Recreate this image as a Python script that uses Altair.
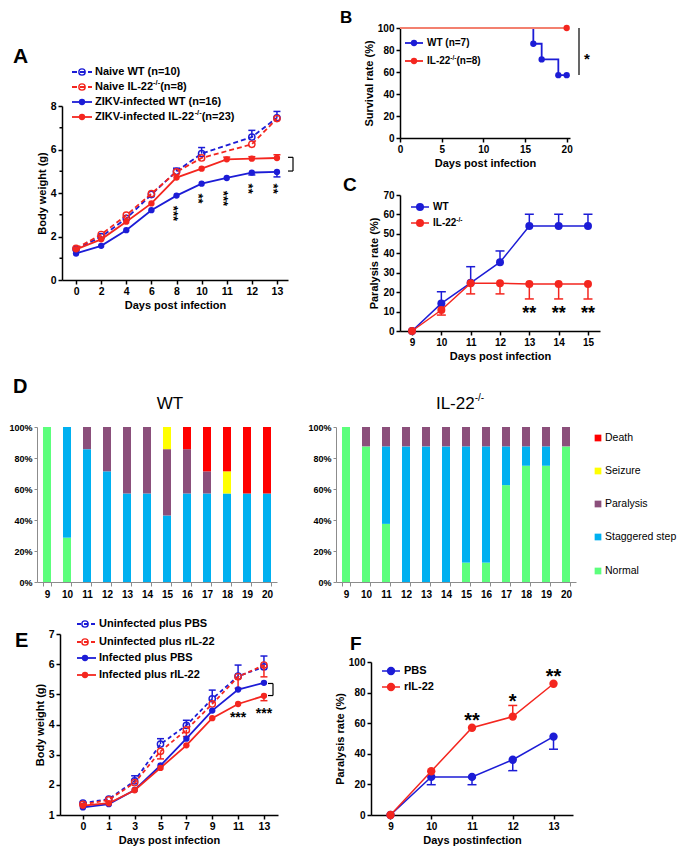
import altair as alt
import pandas as pd

FONT = "Liberation Sans"
BLUE = "#1C1CD6"
RED = "#F4261F"
RED_LIGHT = "#F3806F"
D_GRAY = "#8C8C8C"

# ---------------- Panel A: body weight ----------------
A_days = [0, 2, 4, 6, 8, 10, 11, 12, 13]
A_naive_wt = [1.42, 1.99, 2.83, 3.93, 5.00, 5.81, None, 6.57, 7.46]
A_naive_il22 = [1.45, 2.09, 2.98, 3.97, 4.97, 5.61, None, 6.24, 7.42]
A_zikv_wt = [1.22, 1.57, 2.29, 3.21, 3.88, 4.43, 4.69, 4.94, 4.97]
A_zikv_il22 = [1.41, 1.87, 2.68, 3.52, 4.71, 5.12, 5.55, 5.58, 5.61]
A_err_naive_wt = [None, None, None, None, 5.14, 6.09, None, 6.88, 7.75]
A_err_naive_il22 = [None, None, None, None, None, None, None, None, None]
A_err_zikv_wt = [None, None, None, None, None, None, None, 4.83, 4.74]
A_err_zikv_il22 = [None, None, None, None, None, None, 5.65, 5.67, 5.76]
A_star_days = [8, 10, 11, 12, 13]
A_star_text = ["***", "**", "***", "**", "**"]
A_star_y = [3.06, 3.75, 3.75, 4.2, 4.2]
A_bracket = [5.01, 5.64]
A_yticks = [0, 2, 4, 6, 8]
A_minor = [1, 3, 5, 7]

# ---------------- Panel B: survival ----------------
B_wt_days = [0, 16, 17, 19, 20]
B_wt_surv = [100, 85.7, 71.4, 57.1, 57.1]
B_wt_mark_days = [16, 17, 19, 20]
B_wt_mark_surv = [85.7, 71.4, 57.1, 57.1]
B_il_days = [0, 20]
B_il_surv = [100, 100]
B_il_mark_days = [20]
B_il_mark_surv = [100]
B_bracket = [57.3, 100]
B_star_y = 75.5

# ---------------- Panel C: paralysis ----------------
C_days = [9, 10, 11, 12, 13, 14, 15]
C_wt = [0, 14.2, 24.8, 35.4, 54.0, 54.0, 54.0]
C_wt_err = [None, 20.2, 33.1, 41.2, 60.1, 60.1, 60.1]
C_il = [0, 10.8, 24.6, 24.6, 24.2, 24.2, 24.2]
C_il_err = [None, 8.2, 19.1, 19.1, 16.5, 16.5, 16.5]
C_star_days = [13, 14, 15]
C_star_text = ["**", "**", "**"]
C_star_y = [11.2, 11.2, 11.2]

# ---------------- Panel D: clinical status ----------------
D_days = [9, 10, 11, 12, 13, 14, 15, 16, 17, 18, 19, 20]
D_status = ["Normal", "Staggered step", "Paralysis", "Seizure", "Death"]
D_colors = ["#5CFF7C", "#00B0F0", "#8B4F7B", "#FFFF00", "#FF0000"]
D_wt_normal = [100, 28.6, 0, 0, 0, 0, 0, 0, 0, 0, 0, 0]
D_wt_stag = [0, 71.4, 85.7, 71.4, 57.1, 57.1, 42.9, 57.1, 57.1, 57.1, 57.1, 57.1]
D_wt_para = [0, 0, 14.3, 28.6, 42.9, 42.9, 42.8, 28.6, 14.3, 0, 0, 0]
D_wt_seiz = [0, 0, 0, 0, 0, 0, 14.3, 0, 0, 14.3, 0, 0]
D_wt_death = [0, 0, 0, 0, 0, 0, 0, 14.3, 28.6, 28.6, 42.9, 42.9]
D_il_normal = [100, 87.5, 37.5, 0, 0, 0, 12.5, 12.5, 62.5, 75, 75, 87.5]
D_il_stag = [0, 0, 50, 87.5, 87.5, 87.5, 75, 75, 25, 12.5, 12.5, 0]
D_il_para = [0, 12.5, 12.5, 12.5, 12.5, 12.5, 12.5, 12.5, 12.5, 12.5, 12.5, 12.5]
D_il_seiz = [0] * 12
D_il_death = [0] * 12
D_legend = ["Death", "Seizure", "Paralysis", "Staggered step", "Normal"]

# ---------------- Panel E: body weight rIL-22 ----------------
E_days = [0, 1, 3, 5, 7, 9, 11, 13]
E_un_pbs = [1.39, 1.53, 2.13, 3.35, 3.97, 4.85, 5.60, 5.91]
E_un_ril = [1.35, 1.50, 2.07, 3.11, 3.82, 4.68, 5.58, 5.97]
E_in_pbs = [1.25, 1.36, 1.83, 2.64, 3.53, 4.46, 5.16, 5.38]
E_in_ril = [1.31, 1.39, 1.82, 2.56, 3.31, 4.21, 4.68, 4.95]
E_err_un_pbs = [None, None, 2.30, 3.53, 4.14, 5.14, 5.97, 6.27]
E_err_un_ril = [None, None, None, 2.86, 3.60, None, 5.20, 5.58]
E_err_in_pbs = [None] * 8
E_err_in_ril = [None, None, None, None, None, None, None, 4.79]
E_star_days = [11, 13]
E_star_text = ["***", "***"]
E_star_y = [4.34, 4.48]
E_bracket = [4.96, 5.36]

# ---------------- Panel F: paralysis rIL-22 ----------------
F_days = [9, 10, 11, 12, 13]
F_pbs = [0, 24.9, 24.9, 36.1, 51.2]
F_pbs_err = [None, 19.8, 19.8, 29.0, 43.0]
F_ril = [0, 28.6, 57.0, 64.3, 85.8]
F_ril_err = [None, None, None, 71.6, None]
F_star_days = [11, 12, 13]
F_star_text = ["**", "*", "**"]
F_star_y = [65.2, 77.6, 93.8]

# ---------------- helpers ----------------
ONE = pd.DataFrame({"k": [0]})
BW = {' ': 278, '(': 333, ')': 333, '-': 333, '/': 278, '=': 584, '%': 889, '*': 389,
      'A': 722, 'B': 722, 'C': 722, 'D': 722, 'E': 667, 'F': 611, 'G': 778, 'H': 722,
      'I': 278, 'K': 722, 'L': 611, 'N': 722, 'P': 667, 'S': 667, 'T': 611, 'U': 722,
      'V': 667, 'W': 944, 'Z': 611, 'a': 556, 'b': 611, 'c': 556, 'd': 611, 'e': 556,
      'f': 333, 'g': 611, 'h': 611, 'i': 278, 'l': 278, 'n': 611, 'o': 611, 'p': 611,
      'r': 389, 's': 556, 't': 333, 'u': 611, 'v': 556, 'y': 556}
RW = {'I': 278, 'L': 556, '-': 333, '2': 556, '/': 278}


def tw(s, size, table=BW):
    return sum(table.get(c, 556) for c in s) * size / 1000.0


# Every panel is a "cell": a chart whose group covers the whole cell; the data area
# inside it is set by the scale ranges, and the axes are moved in by offsets.
class Cell:
    def __init__(self, x0, y0, x1, y1, pl, pt, pr, pb):
        self.x0, self.y0 = x0, y0
        self.w, self.h = x1 - x0, y1 - y0
        self.l, self.t, self.r, self.b = pl - x0, pt - y0, pr - x0, pb - y0

    def px(self, x):
        return x - self.x0

    def py(self, y):
        return y - self.y0


def txt(C, s, x, y, size, weight="bold", align="left", baseline="middle", angle=0, color="black"):
    kw = dict(text=s, fontSize=size, fontWeight=weight, align=align, baseline=baseline,
              color=color, font=FONT)
    if angle:
        kw["angle"] = angle
    return alt.Chart(ONE).mark_text(**kw).encode(x=alt.value(C.px(x)), y=alt.value(C.py(y)))


def seg(C, x0, x1, y, color, dash=None, sw=1.8):
    kw = dict(color=color, strokeWidth=sw)
    if dash:
        kw["strokeDash"] = dash
    return alt.Chart(ONE).mark_rule(**kw).encode(
        x=alt.value(C.px(x0)), x2=alt.value(C.px(x1)), y=alt.value(C.py(y)))


def dot(C, x, y, color, filled, size):
    if filled:
        m = alt.Chart(ONE).mark_point(shape="circle", filled=True, color=color, size=size, opacity=1)
    else:
        m = alt.Chart(ONE).mark_point(shape="circle", filled=False, color=color, size=size,
                                      opacity=1, strokeWidth=1.4)
    return m.encode(x=alt.value(C.px(x)), y=alt.value(C.py(y)))


def leg(C, x0, x1, xd, xt, y, color, dash, filled, psize, parts, sw=1.8):
    out = [seg(C, x0, x1, y, color, dash, sw), dot(C, xd, y, color, filled, psize)]
    cx = xt
    for s, size, rise in parts:
        out.append(txt(C, s, cx, y - rise, size))
        cx += tw(s, size)
    return out


class YEnc:
    """Same y scale and the same axis for every layer of a panel."""

    def __init__(self, scale, axis):
        self.scale, self.axis = scale, axis

    def __call__(self, field="value"):
        return alt.Y(field + ":Q", scale=self.scale, axis=self.axis)


def axes(C, days, xpad, xalign, ydom, yvals, xtitle, ytitle, lsize):
    dom = [str(d) for d in days]
    X = alt.X("day:O", scale=alt.Scale(type="point", domain=dom, padding=xpad, align=xalign,
                                       range=[C.l, C.r]),
              axis=alt.Axis(title=xtitle, labelAngle=0, labelFontSize=lsize, offset=-(C.h - C.b)))
    ysc = alt.Scale(domain=ydom, nice=False, zero=False, range=[C.b, C.t])
    yax = alt.Axis(values=yvals, title=ytitle, labelFontSize=lsize, offset=-C.l)
    return X, YEnc(ysc, yax)


def series(X, Y, days, vals, errs, color, dash, filled, psize, sw, cap=7):
    df = pd.DataFrame([{"day": str(d), "dn": d, "value": v}
                       for d, v in zip(days, vals) if v is not None])
    L = []
    kw = dict(color=color, strokeWidth=sw)
    if dash:
        kw["strokeDash"] = dash
    L.append(alt.Chart(df).mark_line(**kw).encode(x=X, y=Y(), order=alt.Order("dn:Q")))
    erows = [{"day": str(d), "value": v, "err": e}
             for d, v, e in zip(days, vals, errs) if v is not None and e is not None]
    if erows:
        edf = pd.DataFrame(erows)
        L.append(alt.Chart(edf).mark_rule(color=color, strokeWidth=1.5).encode(
            x=X, y=Y(), y2=alt.Y2("err")))
        L.append(alt.Chart(edf).mark_tick(color=color, size=cap, thickness=1.5, opacity=1).encode(
            x=X, y=Y("err")))
    if filled:
        L.append(alt.Chart(df).mark_point(shape="circle", filled=True, color=color, size=psize,
                                          opacity=1).encode(x=X, y=Y()))
    else:
        L.append(alt.Chart(df).mark_point(shape="circle", filled=False, color=color, size=psize,
                                          strokeWidth=1.4, opacity=1).encode(x=X, y=Y()))
    return L


def star_layer(days, ys, texts, X, Y, size, angle=0):
    sdf = pd.DataFrame({"day": [str(d) for d in days], "value": ys, "s": texts})
    kw = dict(font=FONT, fontSize=size, fontWeight="bold", align="center", baseline="middle",
              dy=0.29 * size, color="black")
    if angle:
        kw["angle"] = angle
    return alt.Chart(sdf).mark_text(**kw).encode(x=X, y=Y(), text="s:N")


def bracket(C, xa, xb, vals, Y, caps=True):
    out = [alt.Chart(pd.DataFrame({"value": [vals[0]], "value2": [vals[1]]})).mark_rule(
        color="black", strokeWidth=1.2).encode(
        x=alt.value(C.px(xb)), y=Y(), y2=alt.Y2("value2"))]
    if caps:
        out.append(alt.Chart(pd.DataFrame({"value": vals})).mark_rule(
            color="black", strokeWidth=1.2).encode(
            x=alt.value(C.px(xa)), x2=alt.value(C.px(xb)), y=Y()))
    return out


DASH = [5, 3]
EDASH = [4, 3]

# ================= Panel A =================
CA = Cell(8, 8, 335, 370, 62, 106, 288, 280)
XA, YA = axes(CA, A_days, 0.5, 0.56, [0, 8], A_yticks, "Days post infection",
              "Body weight (g)", 10.5)
LA = [alt.Chart(pd.DataFrame({"value": A_minor})).mark_rule(color="black", strokeWidth=1.5)
      .encode(x=alt.value(CA.l - 2.5), x2=alt.value(CA.l), y=YA())]
LA += series(XA, YA, A_days, A_naive_wt, A_err_naive_wt, BLUE, DASH, False, 40, 1.8)
LA += series(XA, YA, A_days, A_naive_il22, A_err_naive_il22, RED, DASH, False, 40, 1.8)
LA += series(XA, YA, A_days, A_zikv_wt, A_err_zikv_wt, BLUE, None, True, 40, 1.8)
LA += series(XA, YA, A_days, A_zikv_il22, A_err_zikv_il22, RED, None, True, 40, 1.8)
LA.append(star_layer(A_star_days, A_star_y, A_star_text, XA, YA, 13, angle=90))
LA += bracket(CA, 288, 293, A_bracket, YA)
LA += leg(CA, 72, 92, 82, 95, 72, BLUE, DASH, False, 40, [("Naive WT (n=10)", 11, 0)])
LA += leg(CA, 72, 92, 82, 95, 87, RED, DASH, False, 40,
          [("Naive IL-22", 11, 0), ("-/-", 7.5, 4), (" (n=8)", 11, 0)])
LA += leg(CA, 72, 92, 82, 95, 102, BLUE, None, True, 40, [("ZIKV-infected WT (n=16)", 11, 0)])
LA += leg(CA, 72, 92, 82, 95, 117, RED, None, True, 40,
          [("ZIKV-infected IL-22", 11, 0), ("-/-", 7.5, 4), (" (n=23)", 11, 0)])
LA.append(txt(CA, "A", 13, 63, 21, baseline="alphabetic"))
panelA = alt.layer(*LA).properties(width=CA.w, height=CA.h)

# ================= Panel B =================
CB = Cell(335, 8, 677, 172, 400, 28, 570, 138)
xscB = alt.Scale(domain=[0, 20.4], nice=False, zero=False, range=[CB.l, CB.r])
XB = alt.X("day:Q", scale=xscB, axis=alt.Axis(values=[0, 5, 10, 15, 20], title="Days post infection",
                                               offset=-(CB.h - CB.b)))
YB = YEnc(alt.Scale(domain=[0, 100], nice=False, zero=False, range=[CB.b, CB.t]),
          alt.Axis(values=[0, 20, 40, 60, 80, 100], title="Survival rate (%)", offset=-CB.l))
LB = []
LB.append(alt.Chart(pd.DataFrame({"day": B_wt_days, "value": B_wt_surv})).mark_line(
    color=BLUE, strokeWidth=1.8, interpolate="step-after").encode(x=XB, y=YB()))
LB.append(alt.Chart(pd.DataFrame({"day": B_il_days, "value": B_il_surv})).mark_line(
    color=RED_LIGHT, strokeWidth=2.2).encode(x=XB, y=YB()))
LB.append(alt.Chart(pd.DataFrame({"day": B_wt_mark_days, "value": B_wt_mark_surv})).mark_point(
    shape="circle", filled=True, color=BLUE, size=40, opacity=1).encode(x=XB, y=YB()))
LB.append(alt.Chart(pd.DataFrame({"day": B_il_mark_days, "value": B_il_mark_surv})).mark_point(
    shape="circle", filled=True, color=RED, size=40, opacity=1).encode(x=XB, y=YB()))
LB += bracket(CB, 579, 579, B_bracket, YB, caps=False)
LB.append(alt.Chart(pd.DataFrame({"value": [B_star_y]})).mark_text(
    text="*", font=FONT, fontSize=15, fontWeight="bold", align="center", baseline="middle",
    dy=4).encode(x=alt.value(CB.px(587)), y=YB()))
LB += leg(CB, 405, 423, 414, 427, 43, BLUE, None, True, 40, [("WT (n=7)", 10, 0)])
LB += leg(CB, 405, 423, 414, 427, 61, RED, None, True, 40,
          [("IL-22", 10, 0), ("-/-", 6.5, 3.5), (" (n=8)", 10, 0)])
LB.append(txt(CB, "B", 340, 23, 17, baseline="alphabetic"))
panelB = alt.layer(*LB).properties(width=CB.w, height=CB.h)

# ================= Panel C =================
CC = Cell(335, 172, 677, 370, 400, 195, 600, 331)
XC, YC = axes(CC, C_days, 0.41, 0.5, [0, 70], [0, 10, 20, 30, 40, 50, 60, 70],
              "Days post infection", "Paralysis rate (%)", 10)
LC = []
LC += series(XC, YC, C_days, C_wt, C_wt_err, BLUE, None, True, 64, 1.5, cap=9)
LC += series(XC, YC, C_days, C_il, C_il_err, RED, None, True, 64, 1.5, cap=9)
LC.append(star_layer(C_star_days, C_star_y, C_star_text, XC, YC, 18))
LC += leg(CC, 411, 429, 420, 433, 207, BLUE, None, True, 64, [("WT", 10, 0)], sw=1.5)
LC += leg(CC, 411, 429, 420, 433, 223, RED, None, True, 64,
          [("IL-22", 10, 0), ("-/-", 6.5, 3.5)], sw=1.5)
LC.append(txt(CC, "C", 343, 191, 19, baseline="alphabetic"))
panelC = alt.layer(*LC).properties(width=CC.w, height=CC.h)


# ================= Panel D =================
def d_panel(C, data):
    dom = [str(d) for d in D_days]
    X = alt.X("day:O", scale=alt.Scale(type="band", domain=dom, paddingInner=0.6,
                                       paddingOuter=0.3, range=[C.l, C.r]),
              axis=alt.Axis(title=None, labelAngle=0, tickBand="extent", domainColor=D_GRAY,
                            tickColor=D_GRAY, domainWidth=1, tickWidth=1, labelFontSize=10,
                            tickSize=4, labelPadding=3, offset=-(C.h - C.b)))
    Y = alt.Y("pct:Q", stack="zero", scale=alt.Scale(domain=[0, 100], nice=False, range=[C.b, C.t]),
              axis=alt.Axis(values=[0, 20, 40, 60, 80, 100], labelExpr="datum.value + '%'",
                            title=None, domainColor=D_GRAY, tickColor=D_GRAY, domainWidth=1,
                            tickWidth=1, labelFontSize=9, tickSize=3, labelPadding=2,
                            offset=-C.l))
    rows = []
    for rank, (status, vals) in enumerate(zip(D_status, data)):
        for d, v in zip(D_days, vals):
            if v > 0:
                rows.append({"day": str(d), "status": status, "pct": v, "rank": rank})
    df = pd.DataFrame(rows)
    return [alt.Chart(df).mark_bar().encode(
        x=X, y=Y,
        color=alt.Color("status:N", scale=alt.Scale(domain=D_status, range=D_colors), legend=None),
        order=alt.Order("rank:Q", sort="ascending"))]


CDW = Cell(8, 370, 300, 605, 37, 427, 277, 582)
LDW = d_panel(CDW, [D_wt_normal, D_wt_stag, D_wt_para, D_wt_seiz, D_wt_death])
LDW.append(txt(CDW, "WT", 170, 404, 17, weight="normal", align="center"))
LDW.append(txt(CDW, "D", 13, 393, 20, baseline="alphabetic"))
panelDW = alt.layer(*LDW).properties(width=CDW.w, height=CDW.h)

CDI = Cell(300, 370, 677, 605, 336, 427, 576, 582)
LDI = d_panel(CDI, [D_il_normal, D_il_stag, D_il_para, D_il_seiz, D_il_death])
t_main = tw("IL-22", 17, RW)
t_sup = tw("-/-", 10, RW)
t_x0 = 460 - (t_main + t_sup) / 2
LDI.append(txt(CDI, "IL-22", t_x0, 404, 17, weight="normal"))
LDI.append(txt(CDI, "-/-", t_x0 + t_main, 398, 10, weight="normal"))
leg_y = [438, 471, 504, 537, 571]
for name, y in zip(D_legend, leg_y):
    c = D_colors[D_status.index(name)]
    LDI.append(alt.Chart(ONE).mark_square(color=c, size=45, opacity=1).encode(
        x=alt.value(CDI.px(598)), y=alt.value(CDI.py(y))))
    LDI.append(txt(CDI, name, 605, y, 10.5, weight="normal"))
panelDI = alt.layer(*LDI).properties(width=CDI.w, height=CDI.h)

# ================= Panel E =================
CE = Cell(8, 605, 320, 849, 60, 634, 278, 815)
XE, YE = axes(CE, E_days, 0.715, 0.62, [1, 7], [1, 2, 3, 4, 5, 6, 7],
              "Days post infection", "Body weight (g)", 10.5)
LE = []
LE += series(XE, YE, E_days, E_un_pbs, E_err_un_pbs, BLUE, EDASH, False, 40, 1.8)
LE += series(XE, YE, E_days, E_un_ril, E_err_un_ril, RED, EDASH, False, 40, 1.8)
LE += series(XE, YE, E_days, E_in_pbs, E_err_in_pbs, BLUE, None, True, 40, 1.8)
LE += series(XE, YE, E_days, E_in_ril, E_err_in_ril, RED, None, True, 40, 1.8)
LE.append(star_layer(E_star_days, E_star_y, E_star_text, XE, YE, 14))
LE += bracket(CE, 268, 273, E_bracket, YE)
LE += leg(CE, 77, 96, 85, 99, 624, BLUE, EDASH, False, 40, [("Uninfected plus PBS", 11, 0)])
LE += leg(CE, 77, 96, 85, 99, 642, RED, EDASH, False, 40, [("Uninfected plus rIL-22", 11, 0)])
LE += leg(CE, 77, 96, 85, 99, 658, BLUE, None, True, 40, [("Infected plus PBS", 11, 0)])
LE += leg(CE, 77, 96, 85, 99, 675, RED, None, True, 40, [("Infected plus rIL-22", 11, 0)])
LE.append(txt(CE, "E", 15, 647, 20, baseline="alphabetic"))
panelE = alt.layer(*LE).properties(width=CE.w, height=CE.h)

# ================= Panel F =================
CF = Cell(320, 605, 677, 849, 371, 662, 573, 815)
XF, YF = axes(CF, F_days, 0.478, 0.5, [0, 100], [0, 20, 40, 60, 80, 100],
              "Days postinfection", "Paralysis rate (%)", 10)
LF = []
LF += series(XF, YF, F_days, F_pbs, F_pbs_err, BLUE, None, True, 70, 1.5, cap=9)
LF += series(XF, YF, F_days, F_ril, F_ril_err, RED, None, True, 70, 1.5, cap=9)
LF.append(star_layer(F_star_days, F_star_y, F_star_text, XF, YF, 20))
LF += leg(CF, 382, 400, 391, 404, 671, BLUE, None, True, 70, [("PBS", 11, 0)], sw=1.5)
LF += leg(CF, 382, 400, 391, 404, 687, RED, None, True, 70, [("rIL-22", 11, 0)], sw=1.5)
LF.append(txt(CF, "F", 350, 650, 19, baseline="alphabetic"))
panelF = alt.layer(*LF).properties(width=CF.w, height=CF.h)

# ================= layout =================
row1 = alt.hconcat(panelA, alt.vconcat(panelB, panelC, spacing=0), spacing=0)
row2 = alt.hconcat(panelDW, panelDI, spacing=0)
row3 = alt.hconcat(panelE, panelF, spacing=0)

chart = (
    alt.vconcat(row1, row2, row3, spacing=0)
    .properties(padding=0)
    .configure(font=FONT)
    .configure_view(stroke=None)
    .configure_axis(
        labelFont=FONT, titleFont=FONT, labelFontWeight="bold", titleFontWeight="bold",
        labelColor="black", titleColor="black", domainColor="black", tickColor="black",
        domainWidth=1.5, tickWidth=1.5, tickSize=4, labelPadding=2, titlePadding=3,
        grid=False, labelFlush=False, labelOverlap=False, labelFontSize=10, titleFontSize=11,
        zindex=1)
)

chart.save("out.html", embed_options={"renderer": "svg", "actions": False})
